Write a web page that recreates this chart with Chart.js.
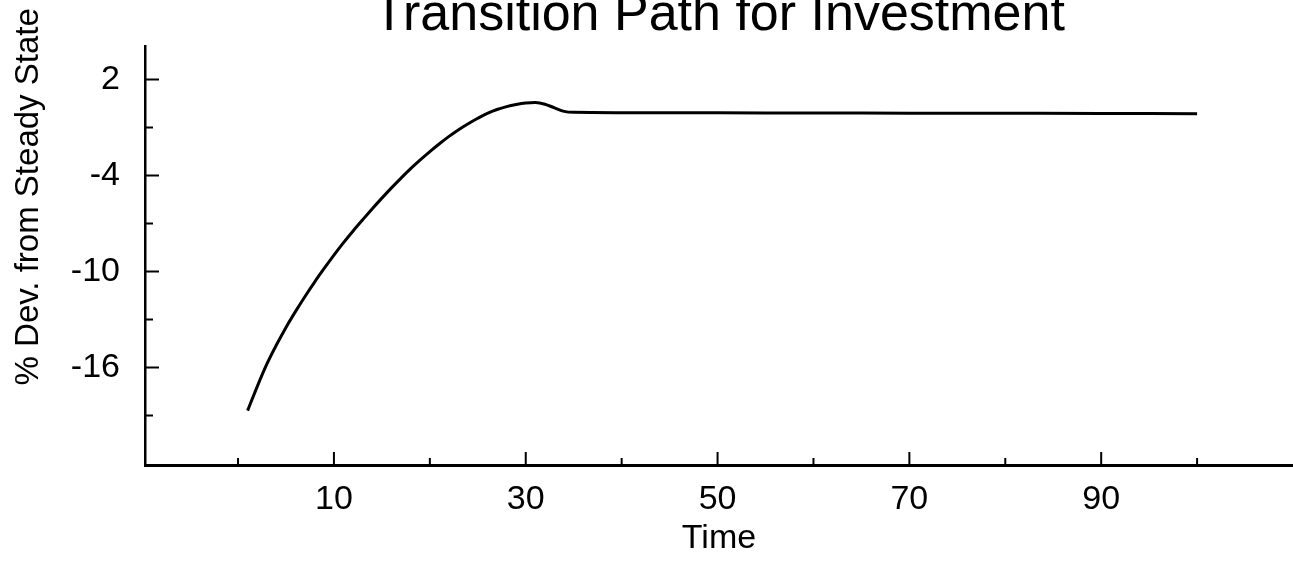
<!DOCTYPE html>
<html>
<head>
<meta charset="utf-8">
<script src="https://cdn.jsdelivr.net/npm/chart.js@4.4.0/dist/chart.umd.min.js"></script>
<style>
  html, body { margin: 0; padding: 0; background: #fff; overflow: hidden; }
  #wrap { width: 1293px; height: 567px; overflow: hidden; }
  #invest { display: block; margin-top: -14px; }
</style>
</head>
<body>
<div id="wrap"><canvas id="invest" width="1293" height="581"></canvas></div>
<script>
// 投資の遷移パス
const times = [1, 2, 3, 4, 5, 6, 7, 8, 9, 10, 11, 12, 13, 14, 15, 16, 17, 18, 19, 20,
  21, 22, 23, 24, 25, 26, 27, 28, 29, 30, 31, 32, 33, 34, 35, 40, 50, 60, 70, 80, 90, 100];
const investment = [-18.7, -17.2, -15.8, -14.6, -13.5, -12.5, -11.55, -10.65, -9.8, -8.98,
  -8.2, -7.47, -6.77, -6.08, -5.42, -4.78, -4.17, -3.58, -3.03, -2.51,
  -2.02, -1.56, -1.14, -0.77, -0.43, -0.12, 0.12, 0.3, 0.43, 0.52,
  0.55, 0.45, 0.22, 0.0, -0.06, -0.08, -0.09, -0.1, -0.11, -0.12, -0.13, -0.14];

const xTicks = [10, 30, 50, 70, 90];
const xMinor = [0, 20, 40, 60, 80, 100];
const yTicks = [2, -4, -10, -16];
const yMinor = [-1, -7, -13, -19];

const titleText = 'Transition Path for Investment';
const xTitle = 'Time';
const yTitle = '% Dev. from Steady State';

const font = "'Liberation Sans', Arial, Helvetica, sans-serif";

// 目盛りを内側に描く
const innerTicks = {
  id: 'innerTicks',
  afterDraw(chart) {
    const {ctx, chartArea, scales: {x, y}} = chart;
    ctx.save();
    ctx.strokeStyle = '#000';
    ctx.lineWidth = 2;
    ctx.beginPath();
    xTicks.forEach(v => {
      const px = x.getPixelForValue(v);
      ctx.moveTo(px, chartArea.bottom);
      ctx.lineTo(px, chartArea.bottom - 13);
    });
    xMinor.forEach(v => {
      const px = x.getPixelForValue(v);
      ctx.moveTo(px, chartArea.bottom);
      ctx.lineTo(px, chartArea.bottom - 7);
    });
    yTicks.forEach(v => {
      const py = y.getPixelForValue(v);
      ctx.moveTo(chartArea.left, py);
      ctx.lineTo(chartArea.left + 14, py);
    });
    yMinor.forEach(v => {
      const py = y.getPixelForValue(v);
      ctx.moveTo(chartArea.left, py);
      ctx.lineTo(chartArea.left + 8, py);
    });
    ctx.stroke();
    ctx.restore();
  }
};

// 縦軸のタイトル（少し上寄せ）
const yLabel = {
  id: 'yLabel',
  afterDraw(chart) {
    const {ctx, chartArea} = chart;
    ctx.save();
    ctx.translate(29, chartArea.top + 151);
    ctx.rotate(-Math.PI / 2);
    ctx.font = '33px ' + font;
    ctx.fillStyle = '#000';
    ctx.textAlign = 'center';
    ctx.textBaseline = 'middle';
    ctx.fillText(yTitle, 0, 0);
    ctx.restore();
  }
};

let ctx = document.getElementById('invest').getContext('2d');
new Chart(ctx, {
  type: 'line',
  data: {
    datasets: [{
      label: 'Investment',
      data: times.map((t, i) => ({x: t, y: investment[i]})),
      borderColor: '#000',
      borderWidth: 3,
      pointRadius: 0,
      cubicInterpolationMode: 'monotone',
      fill: false
    }]
  },
  options: {
    responsive: false,
    animation: false,
    layout: { padding: 0 },
    plugins: {
      legend: { display: false },
      tooltip: { enabled: false },
      title: {
        display: true,
        text: titleText,
        fullSize: false,
        color: '#000',
        font: { family: font, size: 52, weight: 'normal', lineHeight: 1.15 },
        padding: { top: 0, bottom: 0 }
      }
    },
    scales: {
      x: {
        type: 'linear',
        min: -9.7,
        max: 110,
        afterBuildTicks: s => { s.ticks = xTicks.map(v => ({value: v})); },
        afterFit: s => { s.height = 102; },
        grid: { display: false },
        border: { display: true, color: '#000', width: 3 },
        ticks: {
          color: '#000',
          padding: 6,
          maxRotation: 0,
          font: { family: font, size: 34 }
        },
        title: {
          display: true,
          text: xTitle,
          color: '#000',
          font: { family: font, size: 34 },
          padding: { top: 0, bottom: 8 }
        }
      },
      y: {
        min: -22.1,
        max: 4.1,
        afterBuildTicks: s => { s.ticks = yTicks.map(v => ({value: v})); },
        afterFit: s => { s.width = 145; },
        grid: { display: false },
        border: { display: true, color: '#000', width: 2.5 },
        ticks: {
          color: '#000',
          padding: 17,
          font: { family: font, size: 34 }
        }
      }
    }
  },
  plugins: [innerTicks, yLabel]
});
</script>
</body>
</html>
